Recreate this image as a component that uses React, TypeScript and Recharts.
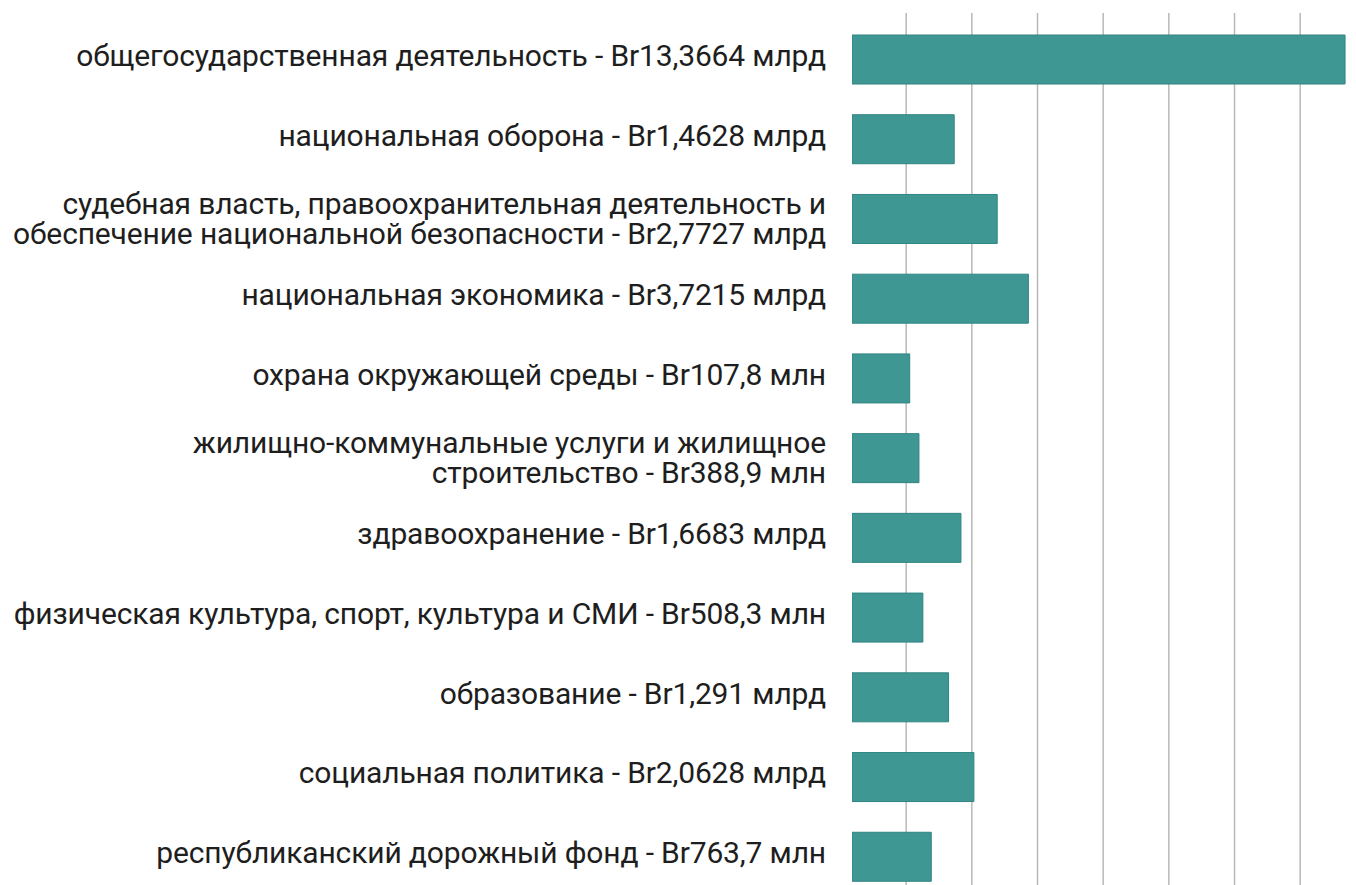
import React from "react";
import { BarChart, Bar, XAxis, YAxis, CartesianGrid } from "recharts";

// расходы бюджета по разделам, млрд Br
const categories = [
	"общегосударственная деятельность",
	"национальная оборона",
	"судебная власть, правоохранительная деятельность и\nобеспечение национальной безопасности",
	"национальная экономика",
	"охрана окружающей среды",
	"жилищно-коммунальные услуги и жилищное\nстроительство",
	"здравоохранение",
	"физическая культура, спорт, культура и СМИ",
	"образование",
	"социальная политика",
	"республиканский дорожный фонд"
];
const amountLabels = [
	"Br13,3664 млрд",
	"Br1,4628 млрд",
	"Br2,7727 млрд",
	"Br3,7215 млрд",
	"Br107,8 млн",
	"Br388,9 млн",
	"Br1,6683 млрд",
	"Br508,3 млн",
	"Br1,291 млрд",
	"Br2,0628 млрд",
	"Br763,7 млн"
];
const values = [13.3664, 1.4628, 2.7727, 3.7215, 0.1078, 0.3889, 1.6683, 0.5083, 1.291, 2.0628, 0.7637];
const gridTicks = [0, 2, 4, 6, 8, 10, 12];

// bars start a bit left of zero in the original graphic
const AXIS_MIN = -1.65;
const AXIS_MAX = 13.7;

const data = categories.map((c, i) => ({
	label: `${c} - ${amountLabels[i]}`,
	value: values[i]
}));

const FONT = "Roboto, 'Liberation Sans', sans-serif";

const LabelTick = (props: any) => {
	const { x, y, payload } = props;
	const lines = String(payload.value).split("\n");
	const n = lines.length;
	return (
		<text
			x={x}
			y={y}
			textAnchor="end"
			fill="#1e1e1e"
			fontSize={30}
			letterSpacing={-0.15}
			fontFamily={FONT}
		>
			{lines.map((line, i) => (
				<tspan key={i} x={x} y={y + 6 + 30 * i - 11.5 * (n - 1)}>
					{line}
				</tspan>
			))}
		</text>
	);
};

const App = () => {
	return (
		<div style={{ position: "absolute", left: 0, top: 0, width: 1356, height: 885, overflow: "hidden", background: "#fff" }}>
			<BarChart
				width={1356}
				height={897}
				data={data}
				layout="vertical"
				margin={{ top: 13, right: 0, bottom: 0, left: 0 }}
			>
				<CartesianGrid
					horizontal={false}
					verticalValues={gridTicks}
					stroke="#b8b8b8"
					strokeWidth={1.5}
				/>
				<XAxis
					type="number"
					hide
					domain={[AXIS_MIN, AXIS_MAX]}
					ticks={gridTicks}
					allowDataOverflow
				/>
				<YAxis
					type="category"
					dataKey="label"
					width={852}
					padding={{ top: 7, bottom: 0 }}
					axisLine={false}
					tickLine={false}
					tickSize={0}
					tickMargin={26}
					interval={0}
					tick={<LabelTick />}
				/>
				<Bar
					dataKey={(d: any) => [AXIS_MIN, d.value]}
					barSize={49}
					fill="#3f9794"
					stroke="#2f8481"
					strokeWidth={1}
					isAnimationActive={false}
				/>
			</BarChart>
		</div>
	);
};

export default App;
